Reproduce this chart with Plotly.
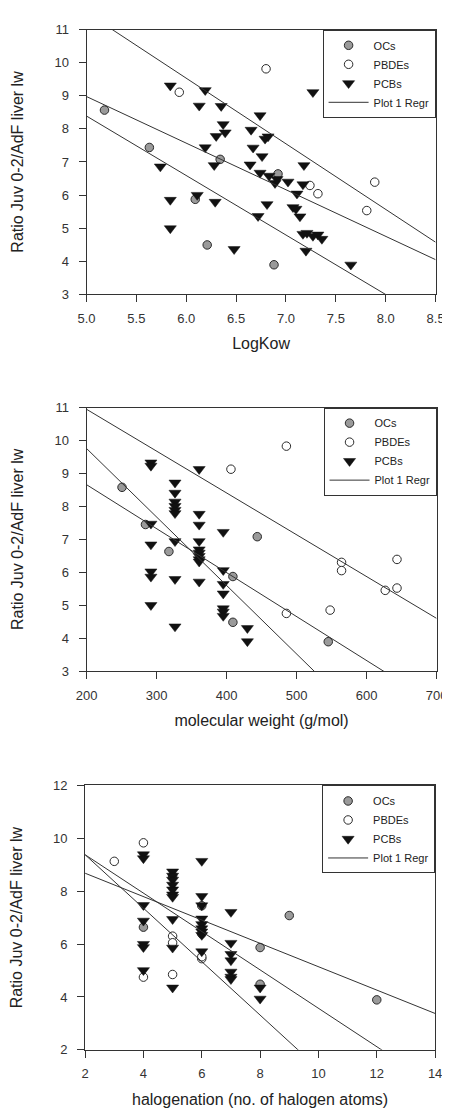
import plotly.graph_objects as go

# ---------------- Panel 1: LogKow ----------------
kow_oc_x = [5.18, 5.63, 6.09, 6.21, 6.34, 6.92, 6.88]
kow_oc_y = [8.57, 7.44, 5.87, 4.49, 7.08, 6.64, 3.89]
kow_pbde_x = [5.93, 6.80, 7.24, 7.32, 7.81, 7.89]
kow_pbde_y = [9.11, 9.82, 6.29, 6.04, 5.53, 6.39]
kow_pcb_x = [5.84, 6.19, 6.13, 6.35, 6.74, 6.37, 6.30, 6.39, 6.65, 6.79, 6.82,
             6.19, 6.67, 6.76, 5.74, 6.28, 6.64, 6.74, 6.83, 6.89, 6.91, 7.02,
             7.18, 7.17, 7.11, 6.11, 5.84, 6.29, 6.81, 6.72, 7.07, 7.10, 7.14,
             5.84, 7.17, 7.21, 7.27, 7.32, 7.36, 7.20, 6.48, 7.65, 7.27]
kow_pcb_y = [9.31, 9.17, 8.70, 8.69, 8.41, 8.14, 7.78, 7.89, 7.97, 7.70, 7.77,
             7.44, 7.43, 7.17, 6.86, 6.90, 6.92, 6.67, 6.58, 6.36, 6.48, 6.40,
             6.90, 6.32, 6.04, 6.00, 5.85, 5.79, 5.72, 5.36, 5.63, 5.58, 5.35,
             4.99, 4.82, 4.85, 4.76, 4.80, 4.67, 4.31, 4.36, 3.89, 9.11]
kow_regr_intercept = [21.445, 16.03, 17.39]
kow_regr_slope = [-1.985, -1.41, -1.80]
kow_range = [5.0, 8.5]

# ---------------- Panel 2: molecular weight ----------------
mw_oc_x = [250.7, 284.2, 317.7, 443.9, 409.1, 409.1, 545.3]
mw_oc_y = [8.58, 7.45, 6.63, 7.08, 5.87, 4.48, 3.89]
mw_pbde_x = [406.3, 485.5, 485.5, 564.3, 564.3, 548.0, 626.7, 643.5, 643.5]
mw_pbde_y = [9.13, 9.83, 4.75, 6.30, 6.05, 4.85, 5.45, 6.39, 5.52]
mw_pcb_x = [292.0] * 7 + [326.4] * 9 + [360.9] * 10 + [395.3] * 7 + [429.8] * 2
mw_pcb_y = [9.33, 9.23, 7.47, 6.84, 6.02, 5.86, 5.00,
            8.72, 8.41, 8.14, 8.01, 7.89, 7.79, 6.94, 5.79, 4.35,
            9.13, 7.77, 7.44, 6.94, 6.69, 6.59, 6.49, 6.39, 6.32, 5.71,
            7.22, 6.06, 5.64, 5.35, 4.90, 4.80, 4.67,
            4.30, 3.90]
mw_regr_intercept = [13.49, 13.92, 11.33]
mw_regr_slope = [-0.0127, -0.0208, -0.01335]
mw_range = [200, 700]

# ---------------- Panel 3: halogenation ----------------
hal_oc_x = [5, 6, 4, 9, 8, 8, 12]
hal_oc_y = [8.58, 7.45, 6.64, 7.08, 5.87, 4.48, 3.89]
hal_pbde_x = [3, 4, 4, 5, 5, 5, 6, 6, 6]
hal_pbde_y = [9.13, 9.83, 4.75, 6.30, 6.05, 4.85, 5.45, 6.39, 5.52]
hal_pcb_x = [4] * 7 + [5] * 10 + [6] * 9 + [7] * 7 + [8] * 2
hal_pcb_y = [9.39, 9.24, 7.47, 6.88, 6.00, 5.88, 5.01,
             8.74, 8.58, 8.43, 8.24, 8.06, 7.87, 7.78, 6.94, 5.86, 4.35,
             9.14, 7.81, 7.46, 6.96, 6.75, 6.59, 6.47, 6.34, 5.72,
             7.21, 6.04, 5.62, 5.38, 4.95, 4.76, 4.67,
             4.35, 3.93]
hal_regr_intercept = [9.564, 10.832, 11.402]
hal_regr_slope = [-0.442, -0.726, -1.011]
hal_range = [2, 14]

y_title = "Ratio Juv 0-2/AdF liver lw"
x_titles = ["LogKow", "molecular weight (g/mol)", "halogenation (no. of halogen atoms)"]
legend_names = ["OCs", "PBDEs", "PCBs", "Plot 1 Regr"]

FONT = "Liberation Sans, Arial, sans-serif"
AX = "#333333"

fig = go.Figure()

panels = [
    dict(oc=(kow_oc_x, kow_oc_y), pbde=(kow_pbde_x, kow_pbde_y), pcb=(kow_pcb_x, kow_pcb_y),
         a=kow_regr_intercept, b=kow_regr_slope, xr=kow_range),
    dict(oc=(mw_oc_x, mw_oc_y), pbde=(mw_pbde_x, mw_pbde_y), pcb=(mw_pcb_x, mw_pcb_y),
         a=mw_regr_intercept, b=mw_regr_slope, xr=mw_range),
    dict(oc=(hal_oc_x, hal_oc_y), pbde=(hal_pbde_x, hal_pbde_y), pcb=(hal_pcb_x, hal_pcb_y),
         a=hal_regr_intercept, b=hal_regr_slope, xr=hal_range),
]

for i, p in enumerate(panels):
    sfx = "" if i == 0 else str(i + 1)
    xa, ya, lg = "x" + sfx, "y" + sfx, "legend" + sfx
    fig.add_trace(go.Scatter(
        x=p["oc"][0], y=p["oc"][1], mode="markers", name=legend_names[0],
        xaxis=xa, yaxis=ya, legend=lg,
        marker=dict(symbol="circle", size=8.5, color="#9a9a9a",
                    line=dict(color="#2a2a2a", width=1))))
    fig.add_trace(go.Scatter(
        x=p["pbde"][0], y=p["pbde"][1], mode="markers", name=legend_names[1],
        xaxis=xa, yaxis=ya, legend=lg,
        marker=dict(symbol="circle", size=8.5, color="white",
                    line=dict(color="#2a2a2a", width=1))))
    fig.add_trace(go.Scatter(
        x=p["pcb"][0], y=p["pcb"][1], mode="markers", name=legend_names[2],
        xaxis=xa, yaxis=ya, legend=lg,
        marker=dict(symbol="triangle-down", size=10.5, color="#111111",
                    line=dict(color="#111111", width=0.5))))
    for k, (a, b) in enumerate(zip(p["a"], p["b"])):
        xs = list(p["xr"])
        ys = [a + b * xv for xv in xs]
        fig.add_trace(go.Scatter(
            x=xs, y=ys, mode="lines", name=legend_names[3],
            xaxis=xa, yaxis=ya, legend=lg, showlegend=(k == 0),
            line=dict(color="#333333", width=1)))

W, H = 450, 1111


def xdom(l, r):
    return [l / W, r / W]


def ydom(t, b):
    return [1 - b / H, 1 - t / H]


frames = [
    dict(x=xdom(71, 438), y=ydom(15, 283), xr=kow_range, dx=0.5, yr=[3, 11], dy=1, fmt=".1f"),
    dict(x=xdom(71, 439), y=ydom(398, 665), xr=mw_range, dx=100, yr=[3, 11], dy=1, fmt=""),
    dict(x=xdom(69.5, 437.5), y=ydom(781, 1049), xr=hal_range, dx=2, yr=[2, 12], dy=2, fmt=""),
]

common = dict(showline=True, mirror=True, linecolor=AX, linewidth=1,
              ticks="outside", ticklen=7, tickwidth=1, tickcolor=AX,
              showgrid=False, zeroline=False,
              tickfont=dict(size=13, color=AX, family=FONT))

layout = {}
for i, f in enumerate(frames):
    sfx = "" if i == 0 else str(i + 1)
    layout["xaxis" + sfx] = dict(
        common, domain=f["x"], anchor="y" + sfx, range=f["xr"], tick0=f["xr"][0],
        dtick=f["dx"], tickformat=f["fmt"], ticklabelstandoff=5,
        title=dict(text=x_titles[i], standoff=13, font=dict(size=16, color="#222", family=FONT)))
    layout["yaxis" + sfx] = dict(
        common, domain=f["y"], anchor="x" + sfx, range=f["yr"], tick0=f["yr"][0],
        dtick=f["dy"], ticklabelstandoff=7,
        title=dict(text=y_title, standoff=26, font=dict(size=16, color="#222", family=FONT)))
    layout["legend" + sfx] = dict(
        x=f["x"][1], xanchor="right", y=f["y"][1], yanchor="top",
        bordercolor=AX, borderwidth=1, bgcolor="white",
        font=dict(size=11, color="#222", family=FONT),
        itemwidth=40, tracegroupgap=0)

fig.update_layout(
    width=W, height=H, margin=dict(l=0, r=0, t=0, b=0),
    paper_bgcolor="white", plot_bgcolor="white",
    font=dict(family=FONT, color="#222"),
    **layout)

fig.write_html("out.html")
